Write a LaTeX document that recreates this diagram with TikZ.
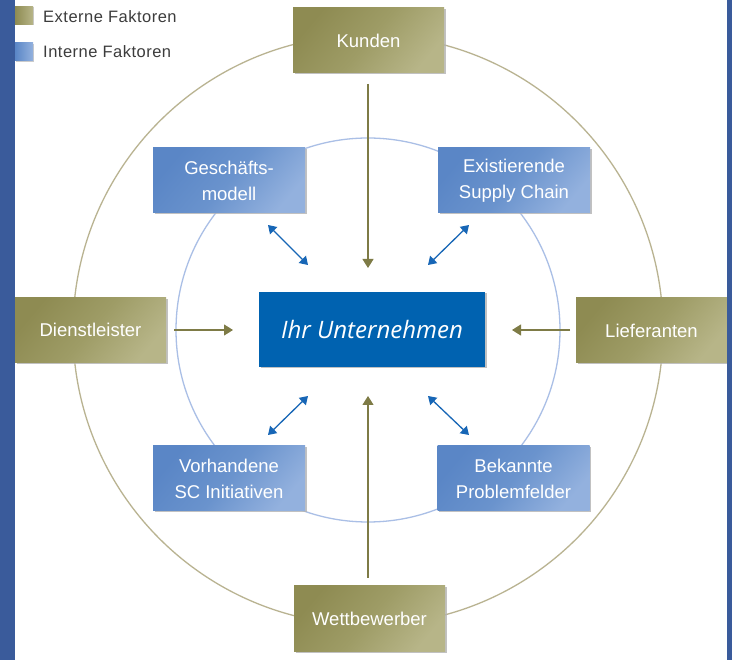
\documentclass[tikz,border=0pt]{standalone}
\usepackage{fontspec}
\setmainfont{Liberation Sans}
\newfontfamily\centerfont{Open Sans}
\newfontfamily\legendfont{Liberation Sans}[LetterSpace=3]
\usetikzlibrary{arrows.meta,shadows}
\definecolor{oliveA}{HTML}{8E8B52}
\definecolor{oliveM}{HTML}{9E9C66}
\definecolor{oliveB}{HTML}{B7B588}
\definecolor{blueA}{HTML}{5A86C6}
\definecolor{blueM}{HTML}{6A93CD}
\definecolor{blueB}{HTML}{93B1DE}
\definecolor{coreblue}{HTML}{0062B0}
\definecolor{stripblue}{HTML}{3A5B9B}
\definecolor{outerring}{HTML}{B9B391}
\definecolor{innerring}{HTML}{AABFE6}
\definecolor{olivearrow}{HTML}{7E7B46}
\definecolor{bluearrow}{HTML}{1766B6}
\definecolor{legendtext}{HTML}{3C3C3C}
\tikzset{
  boxshadow/.style={drop shadow={shadow xshift=1.5pt, shadow yshift=-1.5pt, fill=black!30, opacity=0.8}},
  extbox/.style={minimum width=151pt, minimum height=65pt, inner sep=0pt,
    top color=oliveA, bottom color=oliveB, middle color=oliveM, shading angle=50, boxshadow,
    text=white, align=center, font=\fontsize{18.5}{26}\selectfont},
  intbox/.style={minimum width=152pt, minimum height=65pt, inner sep=0pt,
    top color=blueA, bottom color=blueB, middle color=blueM, shading angle=50, boxshadow,
    text=white, align=center, font=\fontsize{18.5}{26}\selectfont},
  corebox/.style={minimum width=226pt, minimum height=75pt, inner sep=0pt,
    fill=coreblue, boxshadow, text=white,
    font=\centerfont\itshape\fontsize{24}{28}\selectfont},
  legsq/.style={minimum size=18pt, inner sep=0pt,
    drop shadow={shadow xshift=1pt, shadow yshift=-1pt, fill=black!25, opacity=0.8}},
  legtext/.style={anchor=west, inner sep=0pt, text=legendtext, font=\legendfont\fontsize{16.5}{19}\selectfont},
  olivearr/.style={draw=olivearrow, line width=1.2pt, -{Triangle[width=11pt,length=9pt]}},
  bluearr/.style={draw=bluearrow, line width=1.3pt,
    {Triangle[width=10pt,length=8pt]}-{Triangle[width=10pt,length=8pt]}},
}
\begin{document}
\begin{tikzpicture}[x=1pt,y=-1pt]
\useasboundingbox (0,0) rectangle (732,660);
\fill[white] (0,0) rectangle (732,660);
% rings
\coordinate (mid) at (368,330);
\draw[outerring, line width=1.3pt] (mid) circle[radius=295];
\draw[innerring, line width=1.3pt] (mid) circle[radius=192];
% external boxes
\node[extbox] (kunden) at (368.5,40.5) {Kunden};
\node[extbox] (wettbewerber) at (369.5,618.5) {Wettbewerber};
\node[extbox] (dienstleister) at (90.5,330) {Dienstleister};
\node[extbox] (lieferanten) at (651.5,330.5) {Lieferanten};
% internal boxes
\node[intbox] (geschaeft) at (229,180.5) {Geschäfts-\\modell};
\node[intbox] (supply) at (514,180.5) {Existierende\\Supply Chain};
\node[intbox] (initiativen) at (229,478.5) {Vorhandene\\SC Initiativen};
\node[intbox] (probleme) at (513.5,478.5) {Bekannte\\Problemfelder};
% core
\node[corebox] (core) at (372,329.5) {Ihr Unternehmen};
% side strips
\fill[stripblue] (0,0) rectangle (15,660);
\fill[stripblue] (727,0) rectangle (732,660);
% legend
\node[legsq, left color=oliveA, right color=oliveB] (legext) at (24,15.5) {};
\node[legsq, left color=blueA, right color=blueB] (legint) at (24,52) {};
\node[legtext] (legexttext) at (43,17) {Externe Faktoren};
\node[legtext] (leginttext) at (43,52) {Interne Faktoren};
% olive arrow ends
\coordinate (k1) at (368,84);   \coordinate (k2) at (368,268);
\coordinate (w1) at (368,578);  \coordinate (w2) at (368,396);
\coordinate (d1) at (174,330);  \coordinate (d2) at (233,330);
\coordinate (l1) at (570,330);  \coordinate (l2) at (512,330);
\draw[olivearr] (k1) -- (k2);
\draw[olivearr] (w1) -- (w2);
\draw[olivearr] (d1) -- (d2);
\draw[olivearr] (l1) -- (l2);
% blue double arrows
\coordinate (g1) at (268,225);  \coordinate (g2) at (308,265);
\coordinate (s1) at (469,225);  \coordinate (s2) at (428,265);
\coordinate (i1) at (268,435);  \coordinate (i2) at (308,396);
\coordinate (p1) at (469,435);  \coordinate (p2) at (428,396);
\draw[bluearr] (g1) -- (g2);
\draw[bluearr] (s1) -- (s2);
\draw[bluearr] (i1) -- (i2);
\draw[bluearr] (p1) -- (p2);
\end{tikzpicture}
\end{document}
